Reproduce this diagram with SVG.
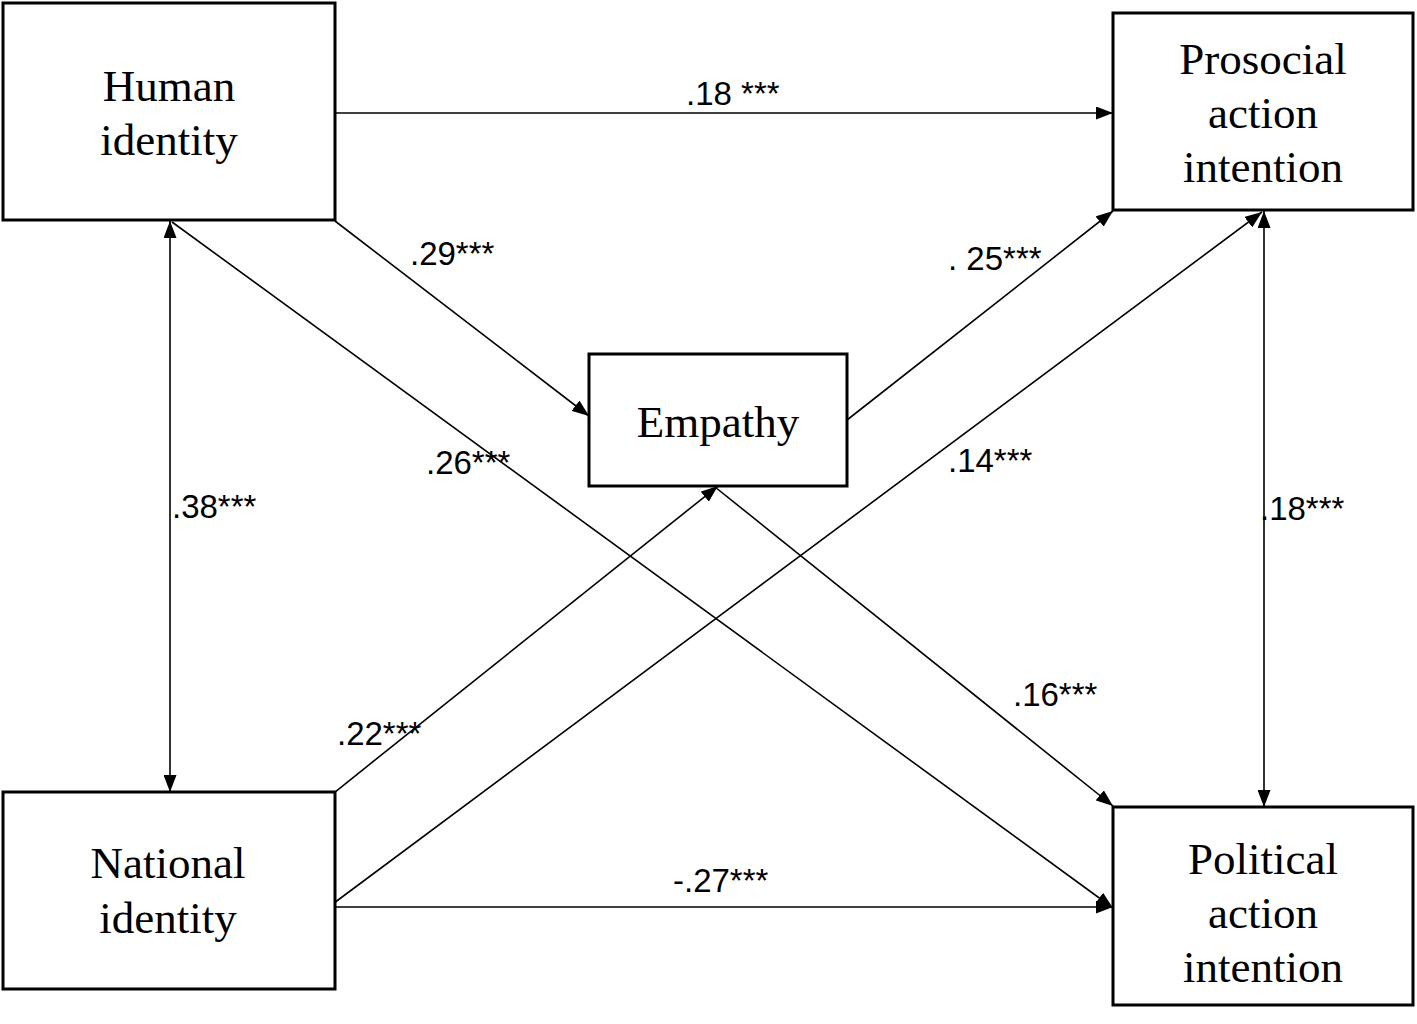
<svg xmlns="http://www.w3.org/2000/svg" width="1417" height="1024" viewBox="0 0 1417 1024">
<style>
.box{fill:#fff;stroke:#000;stroke-width:3}
.nt{font-family:"Liberation Serif","Times New Roman",serif;font-size:45px;text-anchor:middle;fill:#000}
.lb{font-family:"Liberation Sans",Arial,sans-serif;font-size:33px;fill:#000}
.ln{stroke:#000;stroke-width:1.6;fill:none}
</style>
<defs>
<marker id="ah" viewBox="0 0 17 13" refX="17" refY="6.5" markerWidth="17" markerHeight="13" markerUnits="userSpaceOnUse" orient="auto-start-reverse">
<path d="M0,0 L17,6.5 L0,13 Z" fill="#000"/>
</marker>
</defs>
<rect width="1417" height="1024" fill="#fff"/>
<g id="connectors">
<line class="ln" x1="335" y1="113" x2="1113" y2="113" marker-end="url(#ah)"/>
<line class="ln" x1="335" y1="221" x2="589" y2="416" marker-end="url(#ah)"/>
<line class="ln" x1="170" y1="221" x2="170" y2="792" marker-start="url(#ah)" marker-end="url(#ah)"/>
<line class="ln" x1="172" y1="222" x2="1113" y2="908" marker-end="url(#ah)"/>
<line class="ln" x1="715" y1="487" x2="1113" y2="806" marker-end="url(#ah)"/>
<line class="ln" x1="847" y1="420" x2="1113" y2="211" marker-end="url(#ah)"/>
<line class="ln" x1="335" y1="792" x2="718" y2="486" marker-end="url(#ah)"/>
<line class="ln" x1="330" y1="906" x2="1262" y2="212" marker-end="url(#ah)"/>
<line class="ln" x1="330" y1="907" x2="1113" y2="907" marker-end="url(#ah)"/>
<line class="ln" x1="1264" y1="211" x2="1264" y2="807" marker-start="url(#ah)" marker-end="url(#ah)"/>
<text class="lb" x="686" y="105">.18 ***</text>
<text class="lb" x="410" y="265">.29***</text>
<text class="lb" x="172" y="518">.38***</text>
<text class="lb" x="426" y="474">.26***</text>
<text class="lb" x="948" y="270">. 25***</text>
<text class="lb" x="948" y="472">.14***</text>
<text class="lb" x="1260" y="520">.18***</text>
<text class="lb" x="337" y="745">.22***</text>
<text class="lb" x="1013" y="706">.16***</text>
<text class="lb" x="673" y="892">-.27***</text>
</g>
<g id="human">
<rect class="box" x="3" y="3" width="332" height="217"/>
<text class="nt" x="169" y="101">Human</text>
<text class="nt" x="169" y="155">identity</text>
</g>
<g id="prosocial">
<rect class="box" x="1113" y="13" width="300" height="197"/>
<text class="nt" x="1263" y="74">Prosocial</text>
<text class="nt" x="1263" y="128">action</text>
<text class="nt" x="1263" y="182">intention</text>
</g>
<g id="empathy">
<rect class="box" x="589" y="354" width="258" height="132"/>
<text class="nt" x="718" y="437">Empathy</text>
</g>
<g id="national">
<rect class="box" x="3" y="792" width="332" height="197"/>
<text class="nt" x="168" y="878">National</text>
<text class="nt" x="168" y="933">identity</text>
</g>
<g id="political">
<rect class="box" x="1113" y="807" width="300" height="198"/>
<text class="nt" x="1263" y="874">Political</text>
<text class="nt" x="1263" y="928">action</text>
<text class="nt" x="1263" y="982">intention</text>
</g>
</svg>
